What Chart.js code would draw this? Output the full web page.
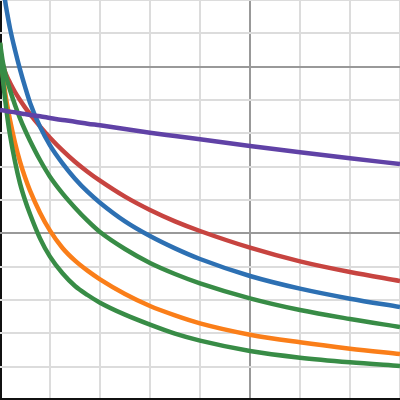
<!DOCTYPE html>
<html>
<head>
<meta charset="utf-8">
<script src="https://cdn.jsdelivr.net/npm/chart.js@4"></script>
<style>
  html, body { margin: 0; padding: 0; background: #fff; }
  #wrap { width: 400px; height: 400px; }
</style>
</head>
<body>
<div id="wrap"><canvas id="curves"></canvas></div>
<script>
const xs = [0, 0.05, 0.1, 0.15, 0.2, 0.3, 0.4, 0.5, 0.6, 0.8, 1, 1.25, 1.5, 1.75, 2, 2.5, 3, 3.5, 4, 5, 6, 7, 8];

const blueY     = [13.6, 12.7, 12.0, 11.55, 11.15, 10.5, 9.92, 9.4, 8.92, 8.2, 7.64, 7.1, 6.64, 6.25, 5.92, 5.36, 4.92, 4.55, 4.23, 3.72, 3.34, 3.04, 2.79];
const redY      = [10.5, 10.1, 9.85, 9.67, 9.52, 9.24, 9.0, 8.78, 8.58, 8.21, 7.87, 7.49, 7.15, 6.85, 6.58, 6.1, 5.7, 5.36, 5.07, 4.57, 4.16, 3.84, 3.57];
const greenTopY = [10.72, 10.2, 9.83, 9.55, 9.3, 8.85, 8.45, 8.1, 7.78, 7.2, 6.7, 6.2, 5.77, 5.38, 5.04, 4.53, 4.11, 3.78, 3.5, 3.05, 2.7, 2.43, 2.19];
const orangeY   = [10.7, 9.85, 9.25, 8.8, 8.4, 7.72, 7.15, 6.68, 6.28, 5.62, 5.08, 4.56, 4.18, 3.88, 3.62, 3.18, 2.82, 2.54, 2.3, 1.96, 1.73, 1.54, 1.38];
const greenLowY = [10.7, 9.75, 9.05, 8.45, 7.95, 7.15, 6.5, 6.0, 5.58, 4.85, 4.3, 3.8, 3.42, 3.15, 2.92, 2.56, 2.26, 1.99, 1.78, 1.47, 1.27, 1.13, 1.02];
const purpleY   = [8.7, 8.69, 8.68, 8.66, 8.65, 8.63, 8.6, 8.58, 8.55, 8.51, 8.46, 8.4, 8.35, 8.29, 8.24, 8.13, 8.02, 7.92, 7.82, 7.62, 7.43, 7.25, 7.08];

function pts(ys) {
  return xs.map((x, i) => ({ x: x, y: ys[i] }));
}

function curve(ys, color) {
  return {
    data: pts(ys),
    borderColor: color,
    borderWidth: 4.5,
    pointRadius: 0,
    fill: false,
    cubicInterpolationMode: 'monotone'
  };
}

function gridColor(ctx) {
  const v = ctx.tick.value;
  if (v === 0) return '#111';
  if (v % 5 === 0) return '#999';
  return '#dcdcdc';
}
function gridWidth(ctx) {
  return ctx.tick.value === 0 ? 4 : 2;
}

new Chart(document.getElementById('curves'), {
  type: 'line',
  data: {
    // first dataset ends up on top
    datasets: [
      curve(purpleY, '#6042a6'),
      curve(greenTopY, '#388c46'),
      curve(greenLowY, '#388c46'),
      curve(blueY, '#2d70b3'),
      curve(orangeY, '#fa7e19'),
      curve(redY, '#c74440')
    ]
  },
  options: {
    responsive: true,
    maintainAspectRatio: false,
    animation: false,
    layout: { padding: 0 },
    plugins: { legend: { display: false }, tooltip: { enabled: false } },
    scales: {
      x: {
        type: 'linear',
        min: 0, max: 8,
        ticks: { display: false, stepSize: 1 },
        grid: { color: gridColor, lineWidth: gridWidth, drawTicks: false },
        border: { display: false }
      },
      y: {
        min: 0, max: 12,
        ticks: { display: false, stepSize: 1 },
        grid: { color: gridColor, lineWidth: gridWidth, drawTicks: false },
        border: { display: false }
      }
    }
  }
});
</script>
</body>
</html>
